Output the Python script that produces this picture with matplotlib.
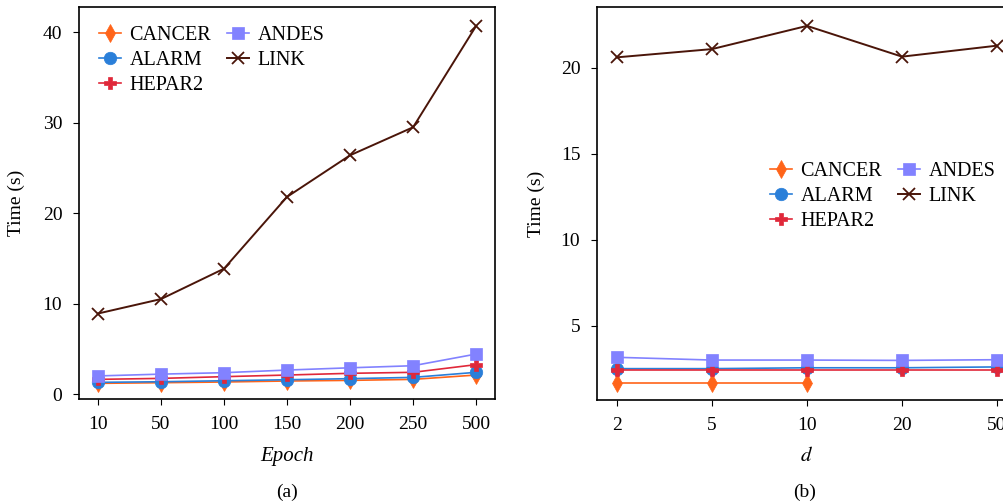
import matplotlib
matplotlib.use("Agg")
import matplotlib.pyplot as plt

plt.rcParams["font.family"] = ["Liberation Serif", "DejaVu Serif"]
plt.rcParams["mathtext.fontset"] = "stix"

series = ["CANCER", "ALARM", "HEPAR2", "ANDES", "LINK"]
colors = ["#ff6419", "#2a7fd9", "#e0283a", "#8282ff", "#4a1509"]
markers = ["d", "o", "P", "s", "x"]

epoch_labels = ["10", "50", "100", "150", "200", "250", "500"]
epoch_time = {
    "CANCER": [1.18, 1.25, 1.33, 1.44, 1.51, 1.62, 2.1],
    "ALARM": [1.29, 1.36, 1.47, 1.58, 1.7, 1.84, 2.4],
    "HEPAR2": [1.62, 1.73, 1.92, 2.1, 2.29, 2.4, 3.25],
    "ANDES": [2.0, 2.2, 2.36, 2.65, 2.9, 3.13, 4.42],
    "LINK": [8.9, 10.5, 13.86, 21.8, 26.4, 29.5, 40.7],
}

d_labels = ["2", "5", "10", "20", "50"]
d_time = {
    "CANCER": [1.66, 1.66, 1.66],
    "ALARM": [2.5, 2.5, 2.55, 2.55, 2.6],
    "HEPAR2": [2.4, 2.4, 2.4, 2.4, 2.4],
    "ANDES": [3.16, 3.0, 3.0, 2.98, 3.02],
    "LINK": [20.62, 21.1, 22.45, 20.66, 21.3],
}

fig = plt.figure(figsize=(10.04, 5.04), dpi=100)
ax1 = fig.add_axes([79 / 1004, 1 - 399 / 504, 416 / 1004, 392 / 504])
ax2 = fig.add_axes([597 / 1004, 1 - 400 / 504, 420 / 1004, 393 / 504])

leg_kw = dict(ncol=2, loc="upper left", fontsize=14.5, frameon=False,
              handlelength=1.1, handletextpad=0.4, columnspacing=0.8,
              labelspacing=0.28, borderaxespad=0.0)


def draw(ax, labels, data):
    for name, c, m in zip(series, colors, markers):
        y = data[name]
        mew = 1.3 if m == "x" else 0.5
        lw = 1.4 if m == "x" else 1.2
        ax.plot(range(len(y)), y, color=c, marker=m, markersize=9,
                markeredgewidth=mew, linewidth=lw, label=name)
    ax.set_xticks(range(len(labels)))
    ax.set_xticklabels(labels)
    ax.tick_params(axis="both", labelsize=14, direction="out", length=4, pad=8)
    ax.set_ylabel("Time (s)", fontsize=14)
    for s in ax.spines.values():
        s.set_linewidth(1.2)


draw(ax1, epoch_labels, epoch_time)
ax1.set_xlim(-0.3, 6.3)
ax1.set_ylim(-0.55, 42.8)
ax1.set_yticks([0, 10, 20, 30, 40])
ax1.set_xlabel("Epoch", fontsize=15, style="italic")
ax1.xaxis.set_label_coords(0.5, -(447 - 399) / 392)
ax1.yaxis.set_label_coords(-(79 - 25) / 416, 0.5)
ax1.legend(bbox_to_anchor=(0.029, 0.972), **leg_kw)

draw(ax2, d_labels, d_time)
ax2.set_xlim(-0.21, 4.21)
ax2.set_ylim(0.675, 23.55)
ax2.set_yticks([5, 10, 15, 20])
ax2.set_xlabel("$d$", fontsize=15)
ax2.xaxis.set_label_coords(0.5, -(447 - 400) / 393)
ax2.yaxis.set_label_coords(-(597 - 545) / 420, 0.5)
ax2.legend(bbox_to_anchor=(0.393, 0.626), **leg_kw)

fig.text(287 / 1004, 1 - 492 / 504, "(a)", ha="center", va="center", fontsize=14)
fig.text(805 / 1004, 1 - 492 / 504, "(b)", ha="center", va="center", fontsize=14)

fig.savefig("out.png", dpi=100)
